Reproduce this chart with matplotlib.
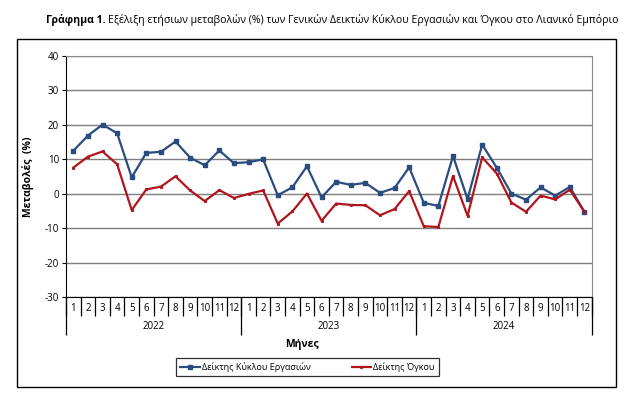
import numpy as np
import matplotlib
matplotlib.use('Agg')
import matplotlib.pyplot as plt
from matplotlib.patches import Rectangle

plt.rcParams['font.family'] = ['Open Sans', 'DejaVu Sans']
plt.rcParams['axes.unicode_minus'] = False

months = [str(m) for m in range(1, 13)] * 3
years = ['2022', '2023', '2024']

# Δείκτης Κύκλου Εργασιών (turnover), annual % change
turnover = [12.5, 16.9, 20.1, 17.6, 4.8, 11.9, 12.2, 15.2, 10.5, 8.3, 12.6, 8.9,
            9.2, 10.0, -0.4, 1.9, 8.0, -1.0, 3.5, 2.6, 3.2, 0.3, 1.7, 7.7,
            -2.6, -3.5, 11.0, -1.5, 14.3, 7.6, 0.1, -1.7, 1.9, -0.5, 2.0, -5.2]
# Δείκτης Όγκου (volume), annual % change
volume = [7.6, 10.8, 12.3, 8.6, -4.7, 1.3, 2.1, 5.1, 1.0, -2.1, 1.1, -1.2,
          0.0, 1.0, -8.6, -5.1, 0.1, -7.8, -2.8, -3.2, -3.3, -6.2, -4.4, 0.8,
          -9.4, -9.6, 5.2, -6.4, 10.6, 5.9, -2.5, -5.2, -0.5, -1.6, 1.2, -5.2]

blue = '#2B4C7E'
red = '#B0161E'

fig = plt.figure(figsize=(6.42, 3.96), dpi=100)
ax = fig.add_axes([66 / 642, 1 - 297.3 / 396, 525.7 / 642, 241.3 / 396])

x = np.arange(len(months)) + 0.5
ax.plot(x, turnover, color=blue, lw=1.6, marker='s', ms=2.3, label='Δείκτης Κύκλου Εργασιών')
ax.plot(x, volume, color=red, lw=1.6, marker='s', ms=1.2, label='Δείκτης Όγκου')

ax.set_xlim(0, len(months))
ax.set_ylim(-30, 40)
ax.set_yticks(range(-30, 41, 10))
ax.yaxis.grid(True, color='#7f7f7f', lw=1)
ax.set_axisbelow(True)
ax.tick_params(axis='y', labelsize=7, length=3, color='black', pad=2)
for s in ['top', 'right']:
    ax.spines[s].set_color('#8c8c8c')
for s in ['left', 'bottom']:
    ax.spines[s].set_color('black')

# month separators and labels
ax.set_xticks(np.arange(0, len(months) + 1))
ax.set_xticklabels([])
ax.tick_params(axis='x', which='major', length=13.5, width=0.9, direction='out')
ax.set_xticks(x, minor=True)
ax.set_xticklabels(months, minor=True)
ax.tick_params(axis='x', which='minor', length=0, labelsize=7, pad=4)

# year separators and labels
sec = ax.secondary_xaxis('bottom')
sec.set_xticks([0, 12, 24, 36])
sec.set_xticklabels([])
sec.tick_params(axis='x', which='major', length=27, width=0.9)
sec.set_xticks([6, 18, 30], minor=True)
sec.set_xticklabels(years, minor=True)
sec.tick_params(axis='x', which='minor', length=0, labelsize=7, pad=17)
sec.spines['bottom'].set_visible(False)

ax.set_ylabel('Μεταβολές  (%)', fontsize=7.5, fontweight='bold', labelpad=8)

fig.text(302 / 642, 1 - 344 / 396, 'Μήνες', fontsize=7.5, fontweight='bold',
         ha='center', va='center')

# title: bold prefix followed by normal text
t1 = fig.text(46 / 642, 1 - 19.5 / 396, 'Γράφημα 1.', fontsize=7.6, fontweight='bold',
              ha='left', va='center')
fig.canvas.draw()
bb = t1.get_window_extent()
fig.text(bb.x1 / fig.bbox.width + 0.004, 1 - 19.5 / 396,
         'Εξέλιξη ετήσιων μεταβολών (%) των Γενικών Δεικτών Κύκλου Εργασιών και Όγκου στο Λιανικό Εμπόριο',
         fontsize=7.6, ha='left', va='center')

# outer frame
fig.patches.append(Rectangle((16.7 / 642, 1 - 387 / 396), (616 - 16.7) / 642, (387 - 39) / 396,
                             transform=fig.transFigure, fill=False, ec='black', lw=1))

leg = fig.legend(loc='center', bbox_to_anchor=(307.5 / 642, 1 - 367 / 396), ncol=2,
                 fontsize=6.5, frameon=True, fancybox=False, edgecolor='black',
                 handlelength=2.2, handletextpad=0.2, columnspacing=4.5,
                 borderpad=0.5)
leg.get_frame().set_linewidth(0.9)

fig.savefig('out.png', dpi=100)
